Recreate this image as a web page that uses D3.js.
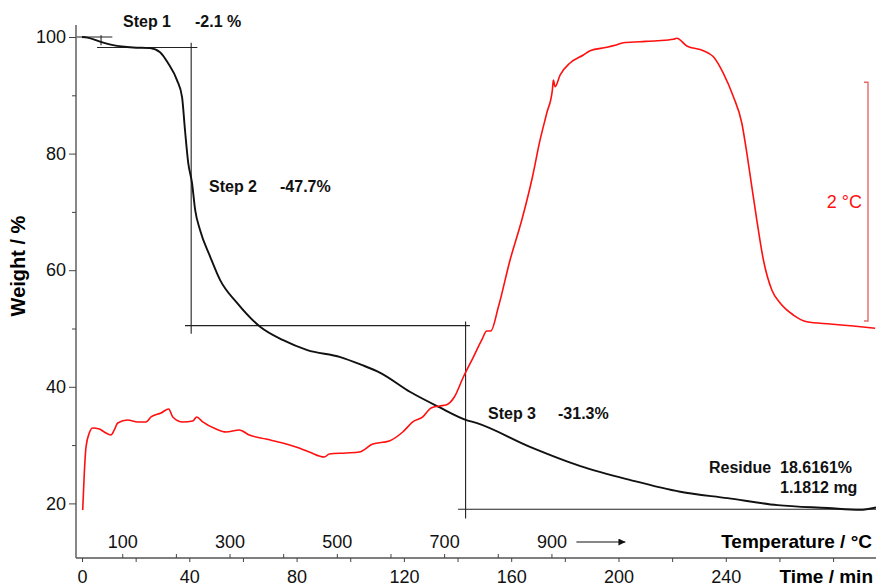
<!DOCTYPE html>
<html>
<head>
<meta charset="utf-8">
<script src="https://cdn.jsdelivr.net/npm/d3@7"></script>
<style>
body { margin: 0; background: #fff; }
svg { display: block; font-family: "Liberation Sans", Arial, Helvetica, sans-serif; }
</style>
</head>
<body>
<script>
var canvasWidth = 876;
var canvasHeight = 587;

// TG curve: time in min, weight in %
var tgTime   = [0, 2, 6.7, 11.6, 19, 25.4, 29.1, 32.1, 35.4, 37.3, 38.4, 39.6, 41.0, 42.2, 44.0, 47.8, 51.5, 57.8, 66.4, 75.0, 84.0, 96.3, 104, 111.2, 122.4, 133.2, 143.3, 147, 167, 185.8, 204.5, 223, 240.7, 259.3, 278, 290, 296];
var tgWeight = [100, 99.9, 99.2, 98.6, 98.2, 98.1, 97.4, 95.5, 92.6, 89.7, 84.0, 78.4, 75.0, 70.3, 66.9, 62.3, 58.3, 54.4, 50.3, 48.0, 46.3, 45.1, 43.8, 42.4, 39.1, 36.5, 34.3, 33.8, 29.7, 26.4, 24.0, 22.0, 20.9, 19.7, 19.2, 18.9, 19.3];

// DTA curve: time in min, temperature difference in °C (relative)
var dtaTime  = [0.26, 0.86, 1.49, 2.72, 3.99, 6.45, 8.31, 10.81, 12.04, 13.31, 17.04, 20.77, 23.86, 25.73, 29.46, 32.33, 33.82, 37.55, 41.28, 42.77, 45.0, 49.96, 53.69, 58.65, 62.38, 68.61, 74.83, 79.79, 84.75, 90.34, 92.21, 98.43, 103.39, 108.39, 114.58, 119.57, 123.30, 127.03, 130.13, 133.22, 135.72, 138.81, 142.17, 145.90, 149.03, 150.89, 152.39, 155.22, 159.58, 163.95, 167.67, 170.77, 173.27, 175.35, 175.73, 176.36, 178.23, 181.95, 186.91, 189.41, 195.64, 198.7, 201.83, 208.05, 214.28, 220.47, 221.74, 225.47, 231.66, 235.38, 239.11, 242.84, 245.97, 247.84, 249.70, 251.57, 254.03, 257.16, 260.25, 265.21, 270.21, 278.90, 287.58, 295.67];
var dtaValue = [-1.584, -1.274, -1.056, -0.939, -0.897, -0.905, -0.930, -0.955, -0.913, -0.855, -0.829, -0.846, -0.846, -0.804, -0.771, -0.737, -0.804, -0.846, -0.838, -0.804, -0.846, -0.905, -0.930, -0.913, -0.955, -0.989, -1.022, -1.056, -1.098, -1.140, -1.114, -1.106, -1.098, -1.031, -1.005, -0.930, -0.846, -0.804, -0.729, -0.712, -0.704, -0.637, -0.469, -0.302, -0.159, -0.084, -0.084, 0.117, 0.511, 0.846, 1.181, 1.517, 1.743, 1.935, 2.019, 1.963, 2.061, 2.162, 2.229, 2.265, 2.293, 2.310, 2.332, 2.340, 2.348, 2.360, 2.369, 2.304, 2.265, 2.214, 2.075, 1.879, 1.659, 1.408, 1.125, 0.846, 0.511, 0.260, 0.151, 0.050, -0.006, -0.025, -0.042, -0.061];

// step evaluation (time in min, weight in %)
var stepNames  = ["Step 1", "Step 2", "Step 3"];
var stepLosses = ["-2.1 %", "-47.7%", "-31.3%"];
var stepTimes  = [7.1, 40.7, 143.0];
var stepLevels = [100, 98.2, 50.5, 19.0];
var residueText = ["Residue", "18.6161%", "1.1812 mg"];
var dtaBar = [0, 2];   // scale bar, °C

var weightTicks  = [20, 30, 40, 50, 60, 70, 80, 90, 100];
var weightLabels = [20, 40, 60, 80, 100];
var timeTicks  = [0, 20, 40, 60, 80, 100, 120, 140, 160, 180, 200, 220, 240, 260, 280];
var timeLabels = [0, 40, 80, 120, 160, 200, 240];
var tempTicks  = [100, 200, 300, 400, 500, 600, 700, 800, 900];
var tempLabels = [100, 300, 500, 700, 900];
var startTemp = 25;     // °C
var heatingRate = 5;    // K/min

var svg = d3.select("body").append("svg")
    .attr("width", canvasWidth)
    .attr("height", canvasHeight);

var axisX = 76, axisY = 558;

var xScale = d3.scaleLinear().domain([0, 296]).range([82, 876]);
var yScale = d3.scaleLinear().domain([20, 100]).range([503.4, 37]);
var dtaScale = d3.scaleLinear().domain([0, 2]).range([321, 82.3]);
var tempScale = d3.scaleLinear()
    .domain([100, 900])
    .range([xScale((100 - startTemp) / heatingRate), xScale((900 - startTemp) / heatingRate)]);

// axis lines
svg.append("line")
    .attr("x1", axisX).attr("x2", axisX)
    .attr("y1", 25).attr("y2", axisY)
    .attr("stroke", "#555").attr("stroke-width", 1.4);
svg.append("line")
    .attr("x1", axisX).attr("x2", canvasWidth)
    .attr("y1", axisY).attr("y2", axisY)
    .attr("stroke", "#555").attr("stroke-width", 1.4);

// Y axis
var yAxis = svg.append("g")
    .attr("transform", "translate(" + axisX + ",0)")
    .call(d3.axisLeft(yScale)
        .tickValues(weightTicks)
        .tickSize(7)
        .tickPadding(3)
        .tickFormat(d => weightLabels.includes(d) ? d : ""));
yAxis.select(".domain").remove();
yAxis.selectAll(".tick line")
    .attr("stroke", "#444")
    .attr("x2", d => weightLabels.includes(d) ? -7 : -4);
yAxis.selectAll("text").attr("font-size", "18px").attr("fill", "#111");

// Time axis
var tAxis = svg.append("g")
    .attr("transform", "translate(0," + axisY + ")")
    .call(d3.axisBottom(xScale)
        .tickValues(timeTicks)
        .tickSize(4)
        .tickPadding(8)
        .tickFormat(d => timeLabels.includes(d) ? d : ""));
tAxis.select(".domain").remove();
tAxis.selectAll(".tick line").attr("stroke", "#444");
tAxis.selectAll("text").attr("font-size", "18px").attr("fill", "#111");

// Temperature axis
var cAxis = svg.append("g")
    .attr("transform", "translate(0," + axisY + ")")
    .call(d3.axisTop(tempScale)
        .tickValues(tempTicks)
        .tickSize(4)
        .tickPadding(6)
        .tickFormat(d => tempLabels.includes(d) ? d : ""));
cAxis.select(".domain").remove();
cAxis.selectAll(".tick line").attr("stroke", "#444");
cAxis.selectAll("text").attr("font-size", "18px").attr("fill", "#111");

// axis titles
svg.append("text")
    .attr("transform", "translate(25,266) rotate(-90)")
    .attr("text-anchor", "middle")
    .attr("font-size", "20px")
    .attr("font-weight", "bold")
    .text("Weight / %");
svg.append("text")
    .attr("x", 872).attr("y", 548)
    .attr("text-anchor", "end")
    .attr("font-size", "19px")
    .attr("font-weight", "bold")
    .text("Temperature / °C");
svg.append("text")
    .attr("x", 873).attr("y", 583)
    .attr("text-anchor", "end")
    .attr("font-size", "19px")
    .attr("font-weight", "bold")
    .text("Time / min");

// arrow after 900
svg.append("defs").append("marker")
    .attr("id", "arrow")
    .attr("viewBox", "0 0 10 10")
    .attr("refX", 10).attr("refY", 5)
    .attr("markerWidth", 7).attr("markerHeight", 7)
    .attr("markerUnits", "userSpaceOnUse")
    .attr("orient", "auto")
    .append("path").attr("d", "M0,0 L10,5 L0,10 z").attr("fill", "#111");
svg.append("line")
    .attr("x1", tempScale(900) + 25).attr("x2", tempScale(900) + 74)
    .attr("y1", 542).attr("y2", 542)
    .attr("stroke", "#111").attr("stroke-width", 1.2)
    .attr("marker-end", "url(#arrow)");

// step construction lines [t1, w1, t2, w2]
var segs = [
    [-2, stepLevels[0], 11.3, stepLevels[0]],
    [stepTimes[0], 100.3, stepTimes[0], 98.6],
    [5.6, stepLevels[1], 43, stepLevels[1]],
    [stepTimes[1], 99.0, stepTimes[1], 49.1],
    [38.4, stepLevels[2], 144.6, stepLevels[2]],
    [stepTimes[2], 51.2, stepTimes[2], 17.4],
    [140.2, stepLevels[3], 296, stepLevels[3]]
];
svg.selectAll(".seg").data(segs).enter().append("line")
    .attr("class", "seg")
    .attr("x1", d => xScale(d[0])).attr("y1", d => yScale(d[1]))
    .attr("x2", d => xScale(d[2])).attr("y2", d => yScale(d[3]))
    .attr("stroke", "#222").attr("stroke-width", 1.1);

// TG curve
var tgData = tgTime.map((t, i) => [t, tgWeight[i]]);
svg.append("path")
    .datum(tgData)
    .attr("fill", "none")
    .attr("stroke", "#111")
    .attr("stroke-width", 1.9)
    .attr("stroke-linejoin", "round")
    .attr("d", d3.line().x(d => xScale(d[0])).y(d => yScale(d[1])).curve(d3.curveMonotoneX));

// DTA curve
var dtaData = dtaTime.map((t, i) => [t, dtaValue[i]]);
svg.append("path")
    .datum(dtaData)
    .attr("fill", "none")
    .attr("stroke", "#ff1010")
    .attr("stroke-width", 1.6)
    .attr("stroke-linejoin", "round")
    .attr("d", d3.line().x(d => xScale(d[0])).y(d => dtaScale(d[1])).curve(d3.curveMonotoneX));

// DTA scale bar
var barX = 868;
svg.append("path")
    .attr("d", "M" + (barX - 4) + "," + dtaScale(dtaBar[1]) + "H" + barX +
        "V" + dtaScale(dtaBar[0]) + "H" + (barX - 4))
    .attr("fill", "none")
    .attr("stroke", "#e46a6a")
    .attr("stroke-width", 1.4);
svg.append("text")
    .attr("x", 862).attr("y", (dtaScale(dtaBar[0]) + dtaScale(dtaBar[1])) / 2 + 6)
    .attr("text-anchor", "end")
    .attr("font-size", "18px")
    .attr("fill", "#ff1010")
    .text((dtaBar[1] - dtaBar[0]) + " °C");

// step labels
var labelPos = [[123, 195, 27], [209, 280, 192], [488, 558, 419]];
stepNames.forEach(function(name, i) {
    svg.append("text")
        .attr("x", labelPos[i][0]).attr("y", labelPos[i][2])
        .attr("font-size", "16px").attr("font-weight", "bold")
        .attr("fill", "#111")
        .text(name);
    svg.append("text")
        .attr("x", labelPos[i][1]).attr("y", labelPos[i][2])
        .attr("font-size", "16px").attr("font-weight", "bold")
        .attr("fill", "#111")
        .text(stepLosses[i]);
});

svg.append("text")
    .attr("x", 709).attr("y", 473)
    .attr("font-size", "16px").attr("font-weight", "bold").attr("fill", "#111")
    .text(residueText[0]);
svg.append("text")
    .attr("x", 780).attr("y", 473)
    .attr("font-size", "16px").attr("font-weight", "bold").attr("fill", "#111")
    .text(residueText[1]);
svg.append("text")
    .attr("x", 780).attr("y", 493)
    .attr("font-size", "16px").attr("font-weight", "bold").attr("fill", "#111")
    .text(residueText[2]);
</script>
</body>
</html>
